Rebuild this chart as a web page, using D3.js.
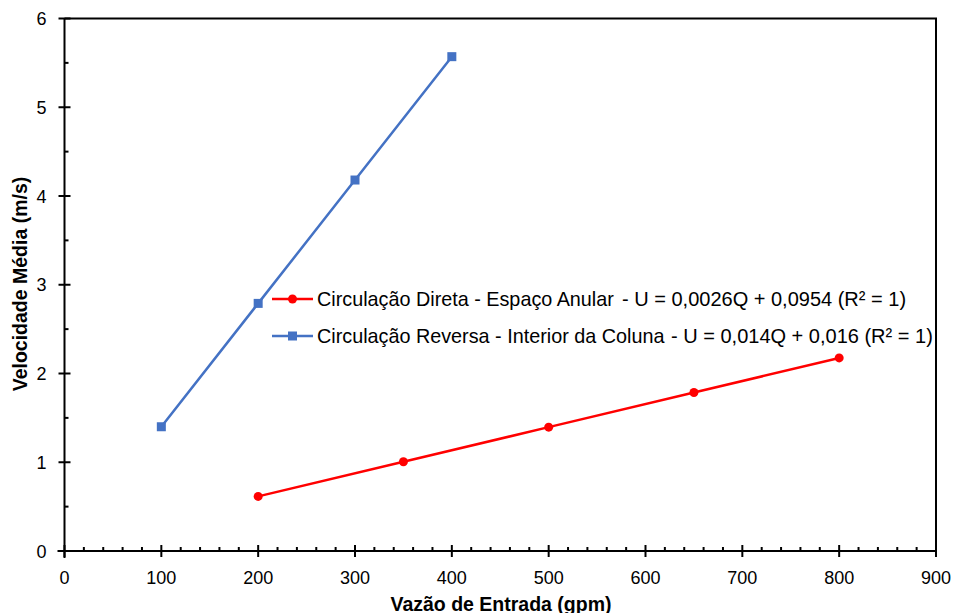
<!DOCTYPE html>
<html>
<head>
<meta charset="utf-8">
<script src="https://cdn.jsdelivr.net/npm/d3@7"></script>
<style>
  body { margin: 0; background: #fff; }
  svg { display: block; font-family: "Liberation Sans", Arial, sans-serif; }
</style>
</head>
<body>
<svg id="chart" width="954" height="613"></svg>
<script>
// Vazão de entrada (gpm) e velocidade média (m/s)
const qDireta = [200, 350, 500, 650, 800];
const uDireta = [0.6154, 1.0054, 1.3954, 1.7854, 2.1754];
const qReversa = [100, 200, 300, 400];
const uReversa = [1.40, 2.79, 4.18, 5.57];
const xTicks = [0, 100, 200, 300, 400, 500, 600, 700, 800, 900];
const yTicks = [0, 1, 2, 3, 4, 5, 6];
const seriesNames = ["Circulação Direta - Espaço Anular", "Circulação Reversa - Interior da Coluna"];
const equations = ["- U  = 0,0026Q + 0,0954 (R² = 1)", "- U = 0,014Q + 0,016 (R² = 1)"];

const svg = d3.select("#chart");
const plotLeft = 64.5, plotRight = 936, plotTop = 18.5, plotBottom = 551;

const x = d3.scaleLinear().domain([0, 900]).range([plotLeft, plotRight]);
const y = d3.scaleLinear().domain([0, 6]).range([plotBottom, plotTop]);

// Frame (top and right edges)
svg.append("path")
  .attr("d", `M${plotLeft},${plotTop}H${plotRight}V${plotBottom}`)
  .attr("fill", "none").attr("stroke", "#000").attr("stroke-width", 2);

// X axis: major ticks crossing, minor ticks inside
const xAxis = svg.append("g").attr("transform", `translate(0,${plotBottom})`);
xAxis.append("line").attr("x1", plotLeft - 7).attr("x2", plotRight).attr("stroke", "#000").attr("stroke-width", 2);
xAxis.selectAll(".maj").data(xTicks).join("line")
  .attr("x1", d => x(d)).attr("x2", d => x(d)).attr("y1", -6).attr("y2", 6)
  .attr("stroke", "#000").attr("stroke-width", 2);
xAxis.selectAll(".min").data(d3.range(20, 900, 20).filter(v => v % 100 !== 0)).join("line")
  .attr("x1", d => x(d)).attr("x2", d => x(d)).attr("y1", -4).attr("y2", 0)
  .attr("stroke", "#000").attr("stroke-width", 2);
xAxis.selectAll("text").data(xTicks).join("text")
  .attr("x", d => x(d)).attr("y", 33).attr("text-anchor", "middle")
  .attr("font-size", 18).attr("fill", "#000").text(d => d);

// Y axis
const yAxis = svg.append("g").attr("transform", `translate(${plotLeft},0)`);
yAxis.append("line").attr("y1", plotTop).attr("y2", plotBottom + 7).attr("stroke", "#000").attr("stroke-width", 2);
yAxis.selectAll(".maj").data(yTicks).join("line")
  .attr("y1", d => y(d)).attr("y2", d => y(d)).attr("x1", -6).attr("x2", 6)
  .attr("stroke", "#000").attr("stroke-width", 2);
yAxis.selectAll(".min").data(d3.range(0.5, 6, 1)).join("line")
  .attr("y1", d => y(d)).attr("y2", d => y(d)).attr("x1", 0).attr("x2", 4)
  .attr("stroke", "#000").attr("stroke-width", 2);
yAxis.selectAll("text").data(yTicks).join("text")
  .attr("x", -18).attr("y", d => y(d) + 6.5).attr("text-anchor", "end")
  .attr("font-size", 18).attr("fill", "#000").text(d => d);

// Axis titles
svg.append("text").attr("x", 501).attr("y", 611).attr("text-anchor", "middle")
  .attr("font-size", 19.5).attr("font-weight", "bold").text("Vazão de Entrada (gpm)");
svg.append("text").attr("transform", "translate(27,284) rotate(-90)").attr("text-anchor", "middle")
  .attr("font-size", 19.5).attr("font-weight", "bold").text("Velocidade Média (m/s)");

const line = d3.line().x(d => x(d[0])).y(d => y(d[1]));
const red = "#ff0000", blue = "#4472c4";

// Circulação direta
const dir = d3.zip(qDireta, uDireta);
svg.append("path").datum(dir).attr("d", line).attr("fill", "none").attr("stroke", red).attr("stroke-width", 2.5);
svg.selectAll(".pd").data(dir).join("circle")
  .attr("cx", d => x(d[0])).attr("cy", d => y(d[1])).attr("r", 4.5).attr("fill", red);

// Circulação reversa
const rev = d3.zip(qReversa, uReversa);
svg.append("path").datum(rev).attr("d", line).attr("fill", "none").attr("stroke", blue).attr("stroke-width", 2.5);
svg.selectAll(".pr").data(rev).join("rect")
  .attr("x", d => x(d[0]) - 4.5).attr("y", d => y(d[1]) - 4.5).attr("width", 9).attr("height", 9).attr("fill", blue);

// Legend
const legend = [
  { name: seriesNames[0], eq: equations[0], color: red, shape: "circle", ly: 299, ex: 622 },
  { name: seriesNames[1], eq: equations[1], color: blue, shape: "rect", ly: 336, ex: 671 }
];
legend.forEach(l => {
  svg.append("line").attr("x1", 272).attr("x2", 313).attr("y1", l.ly).attr("y2", l.ly)
    .attr("stroke", l.color).attr("stroke-width", 2.5);
  if (l.shape === "circle") {
    svg.append("circle").attr("cx", 292.5).attr("cy", l.ly).attr("r", 4.5).attr("fill", l.color);
  } else {
    svg.append("rect").attr("x", 288).attr("y", l.ly - 4.5).attr("width", 9).attr("height", 9).attr("fill", l.color);
  }
  svg.append("text").attr("x", 317).attr("y", l.ly + 7).attr("font-size", 19.8).attr("fill", "#000").text(l.name);
  svg.append("text").attr("x", l.ex).attr("y", l.ly + 7).attr("font-size", 20).attr("fill", "#000").text(l.eq);
});
</script>
</body>
</html>
